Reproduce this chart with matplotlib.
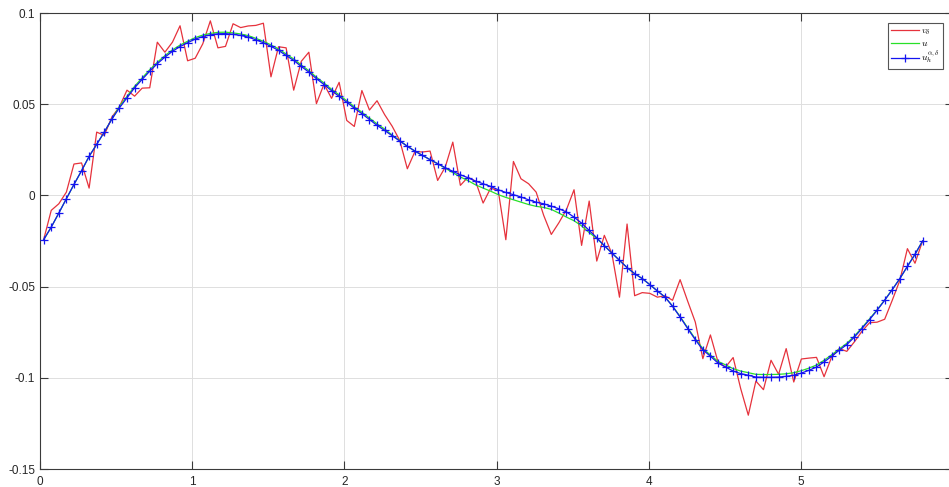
import numpy as np
import matplotlib
matplotlib.use("Agg")
import matplotlib.pyplot as plt

plt.rcParams["mathtext.fontset"] = "cm"

# Noisy data v_delta
v_delta = [
    -0.0243, -0.0082, -0.0046, 0.0018, 0.0172, 0.0178, 0.0040, 0.0347, 0.0329, 0.0429,
    0.0486, 0.0577, 0.0544, 0.0588, 0.0590, 0.0840, 0.0785, 0.0840, 0.0930, 0.0738,
    0.0752, 0.0831, 0.0957, 0.0809, 0.0817, 0.0941, 0.0920, 0.0929, 0.0932, 0.0944,
    0.0650, 0.0815, 0.0809, 0.0577, 0.0735, 0.0785, 0.0503, 0.0610, 0.0532, 0.0620,
    0.0411, 0.0378, 0.0575, 0.0468, 0.0519, 0.0443, 0.0379, 0.0301, 0.0146, 0.0240,
    0.0238, 0.0243, 0.0082, 0.0155, 0.0292, 0.0055, 0.0100, 0.0078, -0.0042, 0.0040,
    0.0025, -0.0243, 0.0186, 0.0091, 0.0064, 0.0018, -0.0110, -0.0214, -0.0150, -0.0078,
    0.0031, -0.0274, -0.0031, -0.0360, -0.0219, -0.0320, -0.0558, -0.0157, -0.0550, -0.0533,
    -0.0537, -0.0558, -0.0550, -0.0575, -0.0462, -0.0580, -0.0694, -0.0895, -0.0765, -0.0913,
    -0.0941, -0.0889, -0.1060, -0.1205, -0.1018, -0.1065, -0.0904, -0.0981, -0.0840, -0.1023,
    -0.0897, -0.0892, -0.0888, -0.0994, -0.0886, -0.0840, -0.0855, -0.0803, -0.0745, -0.0698,
    -0.0695, -0.0679, -0.0575, -0.0466, -0.0292, -0.0372, -0.0250,
]

# Exact solution u
u_exact = [
    -0.0243, -0.0174, -0.0097, -0.0018, 0.0060, 0.0135, 0.0214, 0.0280, 0.0347, 0.0418,
    0.0488, 0.0543, 0.0598, 0.0644, 0.0689, 0.0730, 0.0766, 0.0798, 0.0824, 0.0845,
    0.0865, 0.0879, 0.0888, 0.0894, 0.0895, 0.0891, 0.0885, 0.0876, 0.0861, 0.0845,
    0.0825, 0.0803, 0.0775, 0.0748, 0.0715, 0.0684, 0.0648, 0.0616, 0.0582, 0.0551,
    0.0519, 0.0486, 0.0456, 0.0424, 0.0392, 0.0364, 0.0331, 0.0300, 0.0270, 0.0243,
    0.0219, 0.0196, 0.0174, 0.0149, 0.0125, 0.0101, 0.0081, 0.0058, 0.0040, 0.0023,
    0.0004, -0.0011, -0.0024, -0.0037, -0.0050, -0.0060, -0.0066, -0.0077, -0.0097, -0.0119,
    -0.0139, -0.0167, -0.0204, -0.0236, -0.0276, -0.0316, -0.0356, -0.0396, -0.0429, -0.0456,
    -0.0489, -0.0524, -0.0557, -0.0606, -0.0664, -0.0726, -0.0786, -0.0840, -0.0875, -0.0910,
    -0.0929, -0.0950, -0.0963, -0.0972, -0.0981, -0.0982, -0.0982, -0.0981, -0.0978, -0.0972,
    -0.0961, -0.0947, -0.0930, -0.0904, -0.0874, -0.0842, -0.0811, -0.0771, -0.0725, -0.0677,
    -0.0627, -0.0573, -0.0516, -0.0456, -0.0389, -0.0323, -0.0250,
]

# Regularized reconstruction u_h^{alpha,delta}
u_h = [
    -0.0243, -0.0174, -0.0097, -0.0018, 0.0060, 0.0135, 0.0214, 0.0280, 0.0347, 0.0418,
    0.0480, 0.0535, 0.0590, 0.0636, 0.0681, 0.0722, 0.0758, 0.0790, 0.0816, 0.0837,
    0.0857, 0.0871, 0.0880, 0.0886, 0.0887, 0.0883, 0.0877, 0.0868, 0.0853, 0.0837,
    0.0817, 0.0795, 0.0767, 0.0740, 0.0707, 0.0676, 0.0640, 0.0608, 0.0574, 0.0543,
    0.0511, 0.0478, 0.0448, 0.0416, 0.0384, 0.0356, 0.0327, 0.0298, 0.0269, 0.0243,
    0.0219, 0.0196, 0.0174, 0.0152, 0.0132, 0.0113, 0.0097, 0.0078, 0.0064, 0.0049,
    0.0031, 0.0016, 0.0004, -0.0009, -0.0024, -0.0037, -0.0046, -0.0059, -0.0073, -0.0091,
    -0.0119, -0.0152, -0.0192, -0.0232, -0.0276, -0.0316, -0.0356, -0.0396, -0.0429, -0.0456,
    -0.0489, -0.0524, -0.0557, -0.0608, -0.0667, -0.0730, -0.0791, -0.0846, -0.0882, -0.0919,
    -0.0941, -0.0963, -0.0977, -0.0986, -0.0996, -0.0997, -0.0997, -0.0996, -0.0992, -0.0986,
    -0.0974, -0.0959, -0.0941, -0.0913, -0.0882, -0.0849, -0.0818, -0.0777, -0.0730, -0.0681,
    -0.0630, -0.0575, -0.0517, -0.0456, -0.0389, -0.0323, -0.0250,
]

x_start, x_end = 0.024, 5.80
x = np.linspace(x_start, x_end, len(u_h))

x_ticks = [0, 1, 2, 3, 4, 5]
x_ticklabels = ["0", "1", "2", "3", "4", "5"]
y_ticks = [-0.15, -0.1, -0.05, 0, 0.05, 0.1]
y_ticklabels = ["-0.15", "-0.1", "-0.05", "0", "0.05", "0.1"]

W, H = 949, 487
fig = plt.figure(figsize=(W / 100, H / 100), dpi=100)
ax = fig.add_axes([40 / W, 18 / H, 913 / W, 456 / H])

ax.plot(x, v_delta, color="#e6323c", lw=0.9, label=r"$v_\delta$", zorder=3)
ax.plot(x, u_exact, color="#28e028", lw=0.9, label=r"$u$", zorder=4)
ax.plot(x, u_h, color="#1414f0", lw=0.9, marker="+", ms=6, mew=0.9,
        label=r"$u_h^{\alpha,\delta}$", zorder=5)

ax.set_xlim(0, 6)
ax.set_ylim(-0.15, 0.1)
ax.set_xticks(x_ticks)
ax.set_xticklabels(x_ticklabels)
ax.set_yticks(y_ticks)
ax.set_yticklabels(y_ticklabels)

ax.grid(True, color="#dedede", lw=0.7, zorder=0)
ax.set_axisbelow(True)
for sp in ax.spines.values():
    sp.set_color("#3a3a3a")
    sp.set_linewidth(0.8)
ax.tick_params(direction="in", length=6, width=0.8, color="#3a3a3a",
               top=True, right=True, labelsize=8.5, labelcolor="#262626")
ax.tick_params(axis="x", pad=5)
ax.tick_params(axis="y", pad=3.5)
for lbl in ax.get_xticklabels() + ax.get_yticklabels():
    lbl.set_family("Liberation Sans")

leg = ax.legend(loc="upper right", bbox_to_anchor=(943 / W, 1 - 22.5 / H),
                bbox_transform=fig.transFigure, fontsize=7, frameon=True,
                fancybox=False, edgecolor="#555555", framealpha=1,
                handlelength=2.8, handletextpad=0.3, borderpad=0.3,
                labelspacing=0.1, borderaxespad=0)
leg.get_frame().set_linewidth(0.8)

fig.savefig("out.png", dpi=100)
